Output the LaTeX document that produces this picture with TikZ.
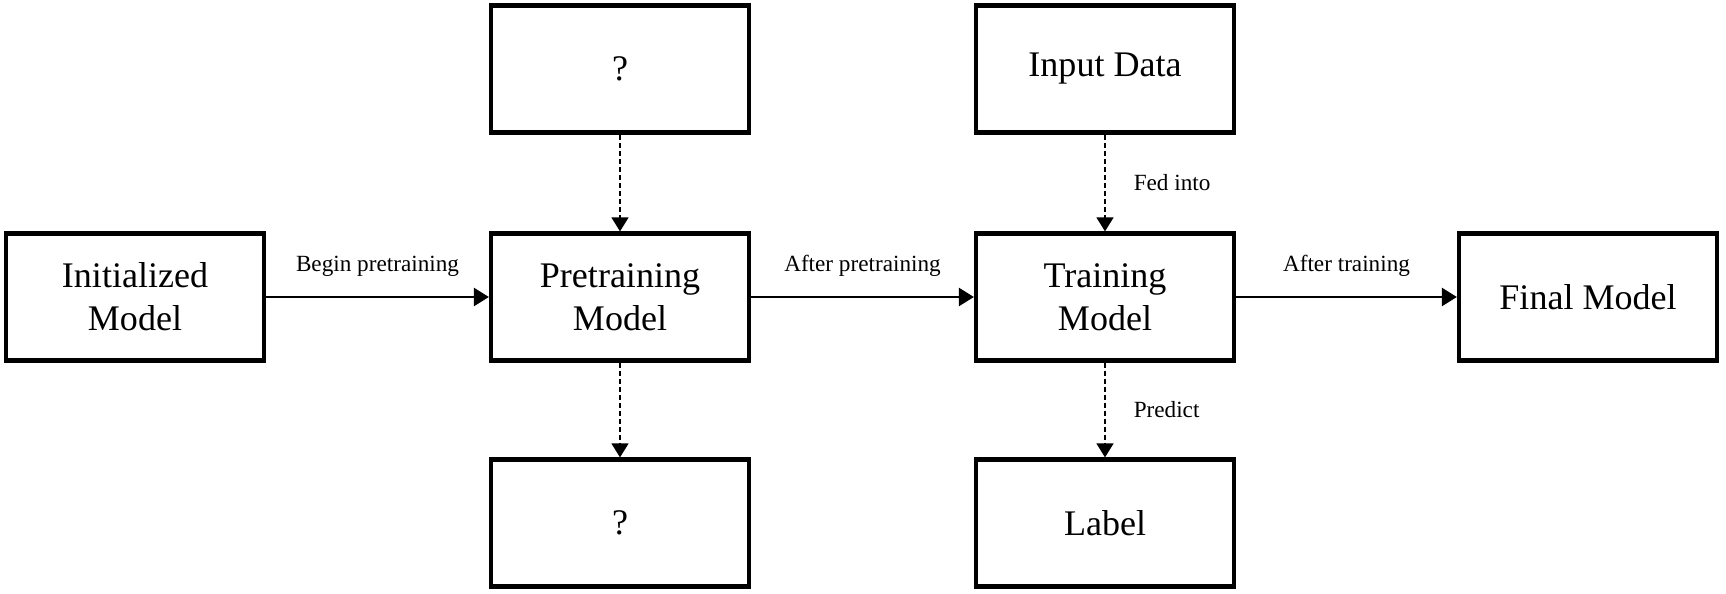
\documentclass[tikz,border=0pt]{standalone}
\usepackage{fontspec}
\setmainfont{Liberation Serif}
\usetikzlibrary{
	positioning		% relative placement
	, arrows.meta		% Triangle tips
}

\begin{document}
\begin{tikzpicture}[
		box/.style={draw=black, line width=0.085cm, minimum width=5.16cm, minimum height=2.54cm,
			align=center, font=\fontsize{20.5}{24.6}\selectfont},
		flow/.style={line width=0.05cm, -{Triangle[width=0.36cm, length=0.3cm]}},
		feed/.style={line width=0.03cm, dash pattern=on 0.1cm off 0.06cm, -{Triangle[width=0.34cm, length=0.28cm]}},
		lbl/.style={font=\fontsize{13.2}{15}\selectfont, inner sep=0}]

	\useasboundingbox (0, 0) rectangle (34.52, 11.86);

	%% Middle row
	\node[box] (init) at (2.70, 5.92) {Initialized\\Model};
	\node[box] (pretrain) at (12.40, 5.92) {Pretraining\\Model};
	\node[box] (train) at (22.10, 5.92) {Training\\Model};
	\node[box] (final) at (31.76, 5.92) {Final Model};

	%% Top and bottom rows
	\node[box] (pretop) at (12.40, 10.48) {?};
	\node[box] (prebot) at (12.40, 1.40) {?};
	\node[box] (input) at (22.10, 10.48) {Input Data};
	\node[box] (label) at (22.10, 1.40) {Label};

	% Main flow
	\draw[flow] (init) -- node[lbl, midway, yshift=0.62cm] {Begin pretraining} (pretrain);
	\draw[flow] (pretrain) -- node[lbl, midway, yshift=0.62cm] {After pretraining} (train);
	\draw[flow] (train) -- node[lbl, midway, yshift=0.62cm] {After training} (final);

	% Side flows
	\draw[feed] (pretop) -- (pretrain);
	\draw[feed] (pretrain) -- (prebot);
	\draw[feed] (input) -- node[lbl, midway, anchor=west, xshift=0.56cm] {Fed into} (train);
	\draw[feed] (train) -- node[lbl, midway, anchor=west, xshift=0.56cm] {Predict} (label);
\end{tikzpicture}
\end{document}
